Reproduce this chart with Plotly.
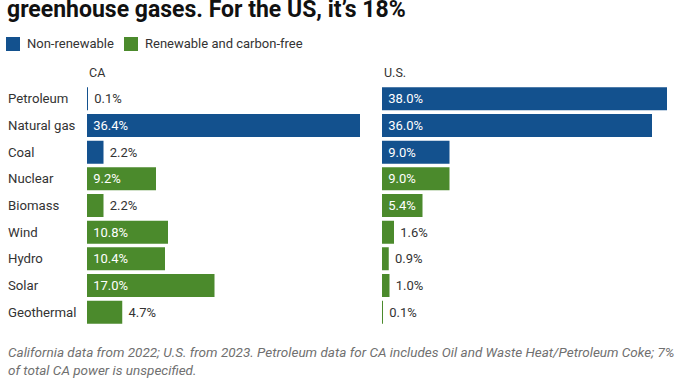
import plotly.graph_objects as go

categories = ["Petroleum", "Natural gas", "Coal", "Nuclear", "Biomass",
              "Wind", "Hydro", "Solar", "Geothermal"]
ca_values = [0.1, 36.4, 2.2, 9.2, 2.2, 10.8, 10.4, 17.0, 4.7]
us_values = [38.0, 36.0, 9.0, 9.0, 5.4, 1.6, 0.9, 1.0, 0.1]
source_type = ["Non-renewable"] * 3 + ["Renewable and carbon-free"] * 6
panel_titles = ["CA", "U.S."]
title_text = "greenhouse gases. For the US, it\u2019s 18%"
footnote = ("California data from 2022; U.S. from 2023. Petroleum data for CA includes Oil and Waste Heat/Petroleum Coke; 7%"
            "<br>of total CA power is unspecified.")

W, H = 678, 381
BLUE = "#13518e"
GREEN = "#4b8a2c"
TXT = "#333333"
FONT = "Roboto"
colors = {"Non-renewable": BLUE, "Renewable and carbon-free": GREEN}

def px(x):
    return x / W

def py(y):
    return 1 - y / H

fig = go.Figure()
for i, vals in enumerate([ca_values, us_values]):
    xa = "x" if i == 0 else "x2"
    ya = "y" if i == 0 else "y2"
    pos = ["inside" if v >= 5 else "outside" for v in vals]
    fig.add_trace(go.Bar(
        x=vals, y=categories, orientation="h",
        xaxis=xa, yaxis=ya,
        marker=dict(color=[colors[t] for t in source_type],
                    line=dict(width=0)),
        text=[f"\u00a0{v:.1f}%" for v in vals],
        textposition=pos,
        insidetextanchor="start",
        textangle=0,
        constraintext="none",
        cliponaxis=False,
        insidetextfont=dict(color="white", size=13, family=FONT),
        outsidetextfont=dict(color=TXT, size=13, family=FONT),
        showlegend=False,
        hoverinfo="skip",
    ))

ax_common = dict(range=[0, 38], showgrid=False, zeroline=False,
                 showticklabels=False, showline=False, fixedrange=True)
ay_common = dict(autorange="reversed", showgrid=False, zeroline=False,
                 showticklabels=False, showline=False, fixedrange=True,
                 domain=[py(325.5), py(85.5)])

fig.update_layout(
    width=W, height=H,
    margin=dict(l=0, r=0, t=0, b=0),
    paper_bgcolor="white", plot_bgcolor="white",
    font=dict(family=FONT, color=TXT, size=13),
    bargap=0.14,
    xaxis=dict(domain=[px(87), px(372)], anchor="y", **ax_common),
    xaxis2=dict(domain=[px(382), px(667)], anchor="y2", **ax_common),
    yaxis=dict(anchor="x", **ay_common),
    yaxis2=dict(anchor="x2", **ay_common),
)

ann = []
# title (partially cropped at the top in the reference)
ann.append(dict(text=f"<b>{title_text}</b>", x=px(5), y=py(22), xref="paper", yref="paper",
                xanchor="left", yanchor="bottom", showarrow=False,
                font=dict(size=23, color="#111111", family=FONT), yshift=-3))
# legend
lx = [6, 124]
for k, name in enumerate(["Non-renewable", "Renewable and carbon-free"]):
    fig.add_shape(type="rect", xref="paper", yref="paper",
                  x0=px(lx[k]), x1=px(lx[k] + 14), y0=py(51), y1=py(37),
                  fillcolor=colors[name], line=dict(width=0))
    ann.append(dict(text=name, x=px(lx[k] + 19), y=py(44), xref="paper", yref="paper",
                    xanchor="left", yanchor="middle", showarrow=False,
                    font=dict(size=13, color=TXT, family=FONT)))
# panel headers
for xp, t in zip([87, 382], panel_titles):
    ann.append(dict(text=t, x=px(xp), y=py(73), xref="paper", yref="paper",
                    xanchor="left", yanchor="middle", showarrow=False,
                    font=dict(size=12.5, color=TXT, family=FONT)))
# category labels
for c in categories:
    ann.append(dict(text=c, x=px(6), y=c, xref="paper", yref="y",
                    xanchor="left", yanchor="middle", showarrow=False,
                    font=dict(size=13.2, color=TXT, family=FONT)))
# footnote
ann.append(dict(text=f"<i>{footnote}</i>", x=px(6), y=py(361), xref="paper", yref="paper",
                xanchor="left", yanchor="middle", showarrow=False, align="left",
                font=dict(size=13.5, color="#707070", family=FONT)))
fig.update_layout(annotations=ann)

fig.write_html("out.html", config={"displayModeBar": False},
               post_script="document.body.style.margin='0';document.body.style.padding='0';")
